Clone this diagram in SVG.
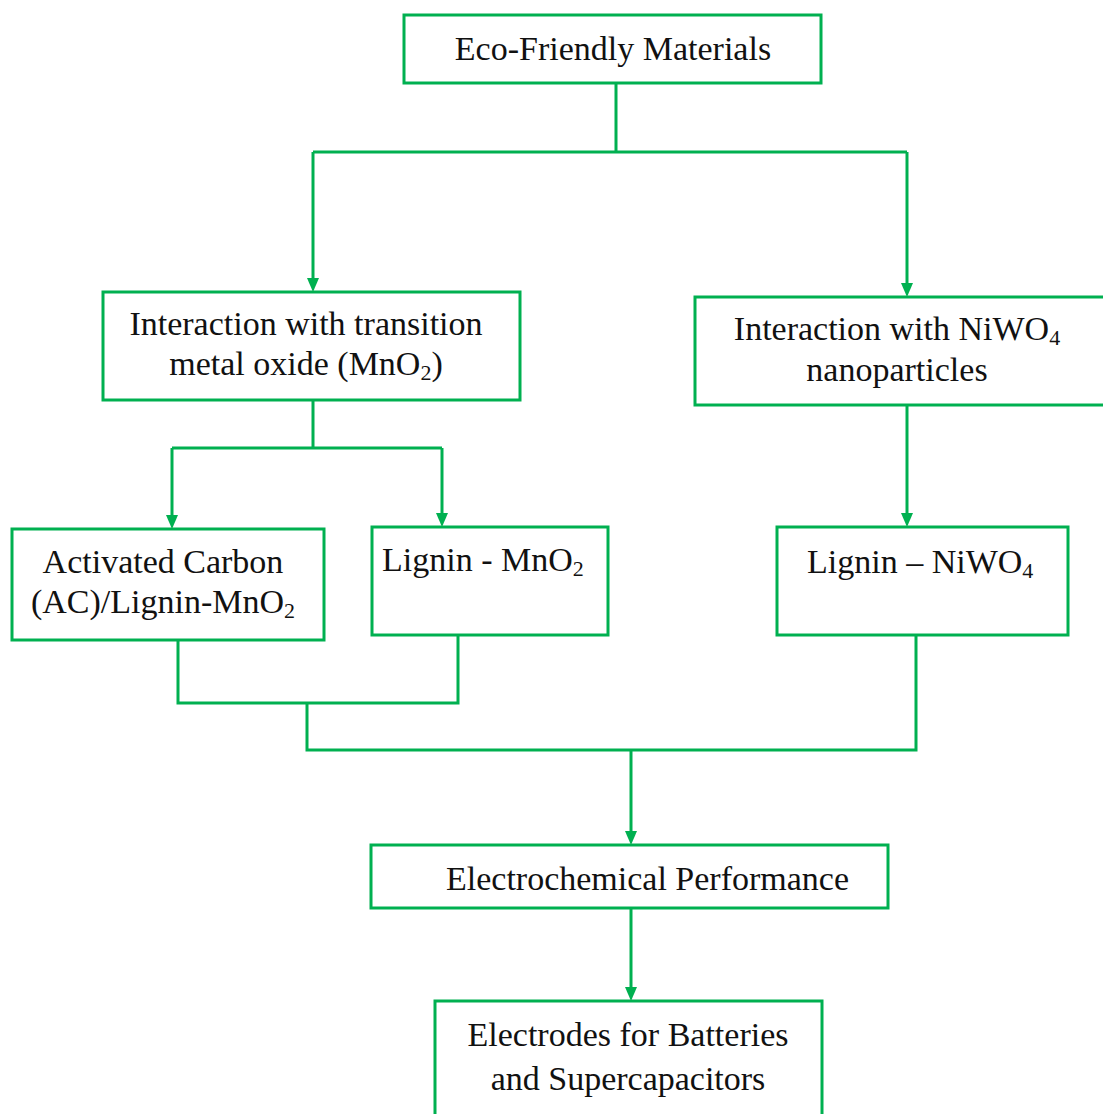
<svg xmlns="http://www.w3.org/2000/svg" width="1103" height="1114" viewBox="0 0 1103 1114">
<style>
.box{fill:#fff;stroke:#00B050;stroke-width:3}
.ln{fill:none;stroke:#00B050;stroke-width:3}
.ah{fill:#00B050}
text{font-family:"Liberation Serif","Times New Roman",serif;font-size:34px;fill:#111}
.c{text-anchor:middle}
.sub{font-size:22px}
</style>
<rect width="1103" height="1114" fill="#fff"/>
<g id="connectors">
<path class="ln" d="M616,83 V152 M313,152 H907"/>
<path class="ln" d="M313,152 V278"/>
<path class="ah" d="M307,278 L319,278 L313,292 Z"/>
<path class="ln" d="M907,152 V283"/>
<path class="ah" d="M901,283 L913,283 L907,297 Z"/>
<path class="ln" d="M313,400 V448 M172,448 H442"/>
<path class="ln" d="M172,448 V515"/>
<path class="ah" d="M166,515 L178,515 L172,529 Z"/>
<path class="ln" d="M442,448 V513"/>
<path class="ah" d="M436,513 L448,513 L442,527 Z"/>
<path class="ln" d="M907,405 V513"/>
<path class="ah" d="M901,513 L913,513 L907,527 Z"/>
<path class="ln" d="M178,640 V703 H458 V635"/>
<path class="ln" d="M307,703 V750 H916 V635"/>
<path class="ln" d="M631,750 V831"/>
<path class="ah" d="M625,831 L637,831 L631,845 Z"/>
<path class="ln" d="M631,908 V987"/>
<path class="ah" d="M625,987 L637,987 L631,1001 Z"/>
</g>
<g id="eco">
<rect class="box" x="404" y="15" width="417" height="68"/>
<text class="c" x="613" y="60">Eco-Friendly Materials</text>
</g>
<g id="mno2">
<rect class="box" x="103" y="292" width="417" height="108"/>
<text class="c" x="306" y="335">Interaction with transition</text>
<text class="c" x="306" y="375">metal oxide (MnO<tspan class="sub" dy="5">2</tspan><tspan dy="-5">)</tspan></text>
</g>
<g id="niwo4">
<rect class="box" x="695" y="297" width="415" height="108"/>
<text class="c" x="897" y="340">Interaction with NiWO<tspan class="sub" dy="5">4</tspan></text>
<text class="c" x="897" y="381">nanoparticles</text>
</g>
<g id="ac">
<rect class="box" x="12" y="529" width="312" height="111"/>
<text class="c" x="163" y="573">Activated Carbon</text>
<text class="c" x="163" y="613">(AC)/Lignin-MnO<tspan class="sub" dy="5">2</tspan></text>
</g>
<g id="lignin-mno2">
<rect class="box" x="372" y="527" width="236" height="108"/>
<text x="382" y="571">Lignin - MnO<tspan class="sub" dy="5">2</tspan></text>
</g>
<g id="lignin-niwo4">
<rect class="box" x="777" y="527" width="291" height="108"/>
<text x="807" y="573">Lignin – NiWO<tspan class="sub" dy="5">4</tspan></text>
</g>
<g id="electrochem">
<rect class="box" x="371" y="845" width="517" height="63"/>
<text x="446" y="890">Electrochemical Performance</text>
</g>
<g id="electrodes">
<rect class="box" x="435" y="1001" width="387" height="120"/>
<text class="c" x="628" y="1046">Electrodes for Batteries</text>
<text class="c" x="628" y="1090">and Supercapacitors</text>
</g>
</svg>
